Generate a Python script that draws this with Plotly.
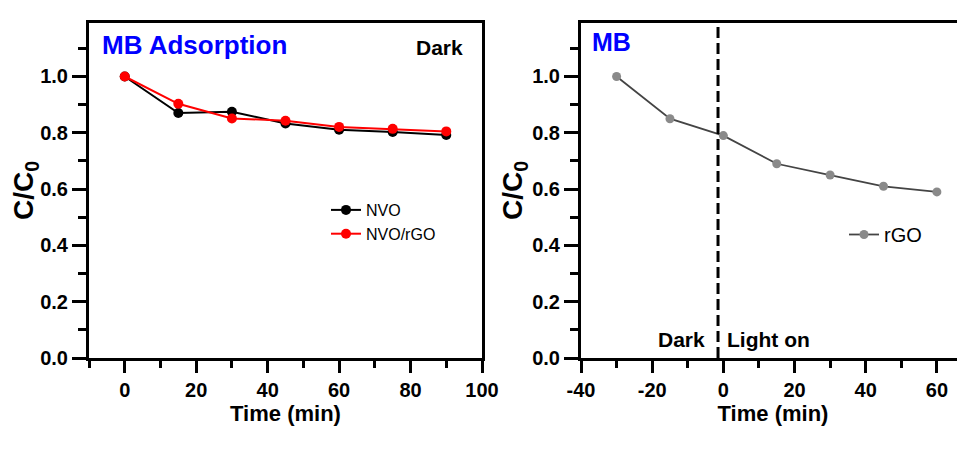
import plotly.graph_objects as go

# ---- data ----
time_left = [0, 15, 30, 45, 60, 75, 90]
nvo = [1.00, 0.87, 0.875, 0.833, 0.811, 0.803, 0.792]
nvo_rgo = [1.00, 0.903, 0.851, 0.843, 0.821, 0.814, 0.805]

time_right = [-30, -15, 0, 15, 30, 45, 60]
rgo = [1.00, 0.85, 0.79, 0.69, 0.65, 0.61, 0.59]

x_ticks_left = [0, 20, 40, 60, 80, 100]
x_ticks_right = [-40, -20, 0, 20, 40, 60]
y_ticks = [0.0, 0.2, 0.4, 0.6, 0.8, 1.0]

light_on_time = -1.5

FONT = "Arial, Liberation Sans, sans-serif"

# page body has an 8px margin: work in screen px and convert
OFF = 8
W, H = 965 - OFF, 450 - OFF
def px(x):
    return (x - OFF) / W
def py(y):
    return 1 - (y - OFF) / H

fig = go.Figure()

fig.add_trace(go.Scatter(x=time_left, y=nvo, name="NVO", mode="lines+markers",
                         line=dict(color="black", width=2),
                         marker=dict(color="black", size=10),
                         xaxis="x", yaxis="y", legend="legend"))
fig.add_trace(go.Scatter(x=time_left, y=nvo_rgo, name="NVO/rGO", mode="lines+markers",
                         line=dict(color="#ff0000", width=2),
                         marker=dict(color="#ff0000", size=10),
                         xaxis="x", yaxis="y", legend="legend"))
fig.add_trace(go.Scatter(x=time_right, y=rgo, name="rGO", mode="lines+markers",
                         line=dict(color="#444444", width=1.8),
                         marker=dict(color="#8a8a8a", size=9),
                         xaxis="x2", yaxis="y2", legend="legend2"))

tickfont = dict(family=FONT, size=20, color="black", weight="bold")
titlefont = dict(family=FONT, size=22, color="black", weight="bold")

def xax(domain, rng, anchor, ticks):
    return dict(domain=domain, range=rng, anchor=anchor, showgrid=False, zeroline=False,
                automargin=False,
                showline=True, linewidth=3, linecolor="black", mirror=True,
                ticks="outside", ticklen=12, tickwidth=3, tickcolor="black",
                tickmode="array", tickvals=ticks, ticktext=[str(t) for t in ticks],
                minor=dict(ticks="outside", ticklen=7, tickwidth=3, tickcolor="black", dtick=10, tick0=0),
                tickfont=tickfont,
                title=dict(text="Time (min)", font=titlefont, standoff=4))

def yax(domain, anchor, mirror):
    return dict(domain=domain, range=[0, 1.19], anchor=anchor, showgrid=False, zeroline=False,
                automargin=False,
                showline=True, linewidth=3, linecolor="black", mirror=mirror,
                ticks="outside", ticklen=14, tickwidth=3, tickcolor="black",
                tickmode="array", tickvals=y_ticks, ticktext=[f"{v:.1f}" for v in y_ticks],
                minor=dict(ticks="outside", ticklen=8, tickwidth=3, tickcolor="black", dtick=0.1, tick0=0),
                tickfont=tickfont,
                title=dict(text="C/C<sub>0</sub>", font=dict(family=FONT, size=28, color="black", weight="bold"),
                           standoff=0))

ydom = [py(358), py(23)]
fig.update_layout(
    width=W, height=H,
    margin=dict(l=0, r=0, t=0, b=0, autoexpand=False),
    paper_bgcolor="white", plot_bgcolor="white",
    xaxis=xax([px(89), px(482)], [-10, 100], "y", x_ticks_left),
    yaxis=yax(ydom, "x", True),
    xaxis2=xax([px(581), 1.0], [-40, 67.9], "y2", x_ticks_right),
    yaxis2=yax(ydom, "x2", False),
    legend=dict(x=px(318 + OFF), y=1 - 185 / H, xanchor="left", yanchor="top",
                bgcolor="rgba(0,0,0,0)", font=dict(family=FONT, size=16, color="black"),
                itemwidth=30, tracegroupgap=0),
    legend2=dict(x=px(836 + OFF), y=1 - 207 / H, xanchor="left", yanchor="top",
                 bgcolor="rgba(0,0,0,0)", font=dict(family=FONT, size=20, color="black"),
                 itemwidth=30),
    showlegend=True,
)

# dashed line separating dark / light
fig.add_shape(type="line", xref="x2", yref="y2 domain", x0=light_on_time, x1=light_on_time,
              y0=0, y1=1, line=dict(color="black", width=3, dash="11px,5px"))

ann = []
ann.append(dict(text="MB Adsorption", x=100, y=45, font=dict(family=FONT, size=26, color="#0000ff", weight="bold")))
ann.append(dict(text="Dark", x=414, y=47, font=dict(family=FONT, size=21, color="black", weight="bold")))
ann.append(dict(text="MB", x=590, y=42, font=dict(family=FONT, size=25, color="#0000ff", weight="bold")))
ann.append(dict(text="Dark", x=656, y=339, font=dict(family=FONT, size=21, color="black", weight="bold")))
ann.append(dict(text="Light on", x=725, y=339, font=dict(family=FONT, size=21, color="black", weight="bold")))
for a in ann:
    fig.add_annotation(text=a["text"], xref="paper", yref="paper", x=px(a["x"]), y=py(a["y"]),
                       xanchor="left", yanchor="middle", showarrow=False, font=a["font"])

fig.write_html("out.html")
